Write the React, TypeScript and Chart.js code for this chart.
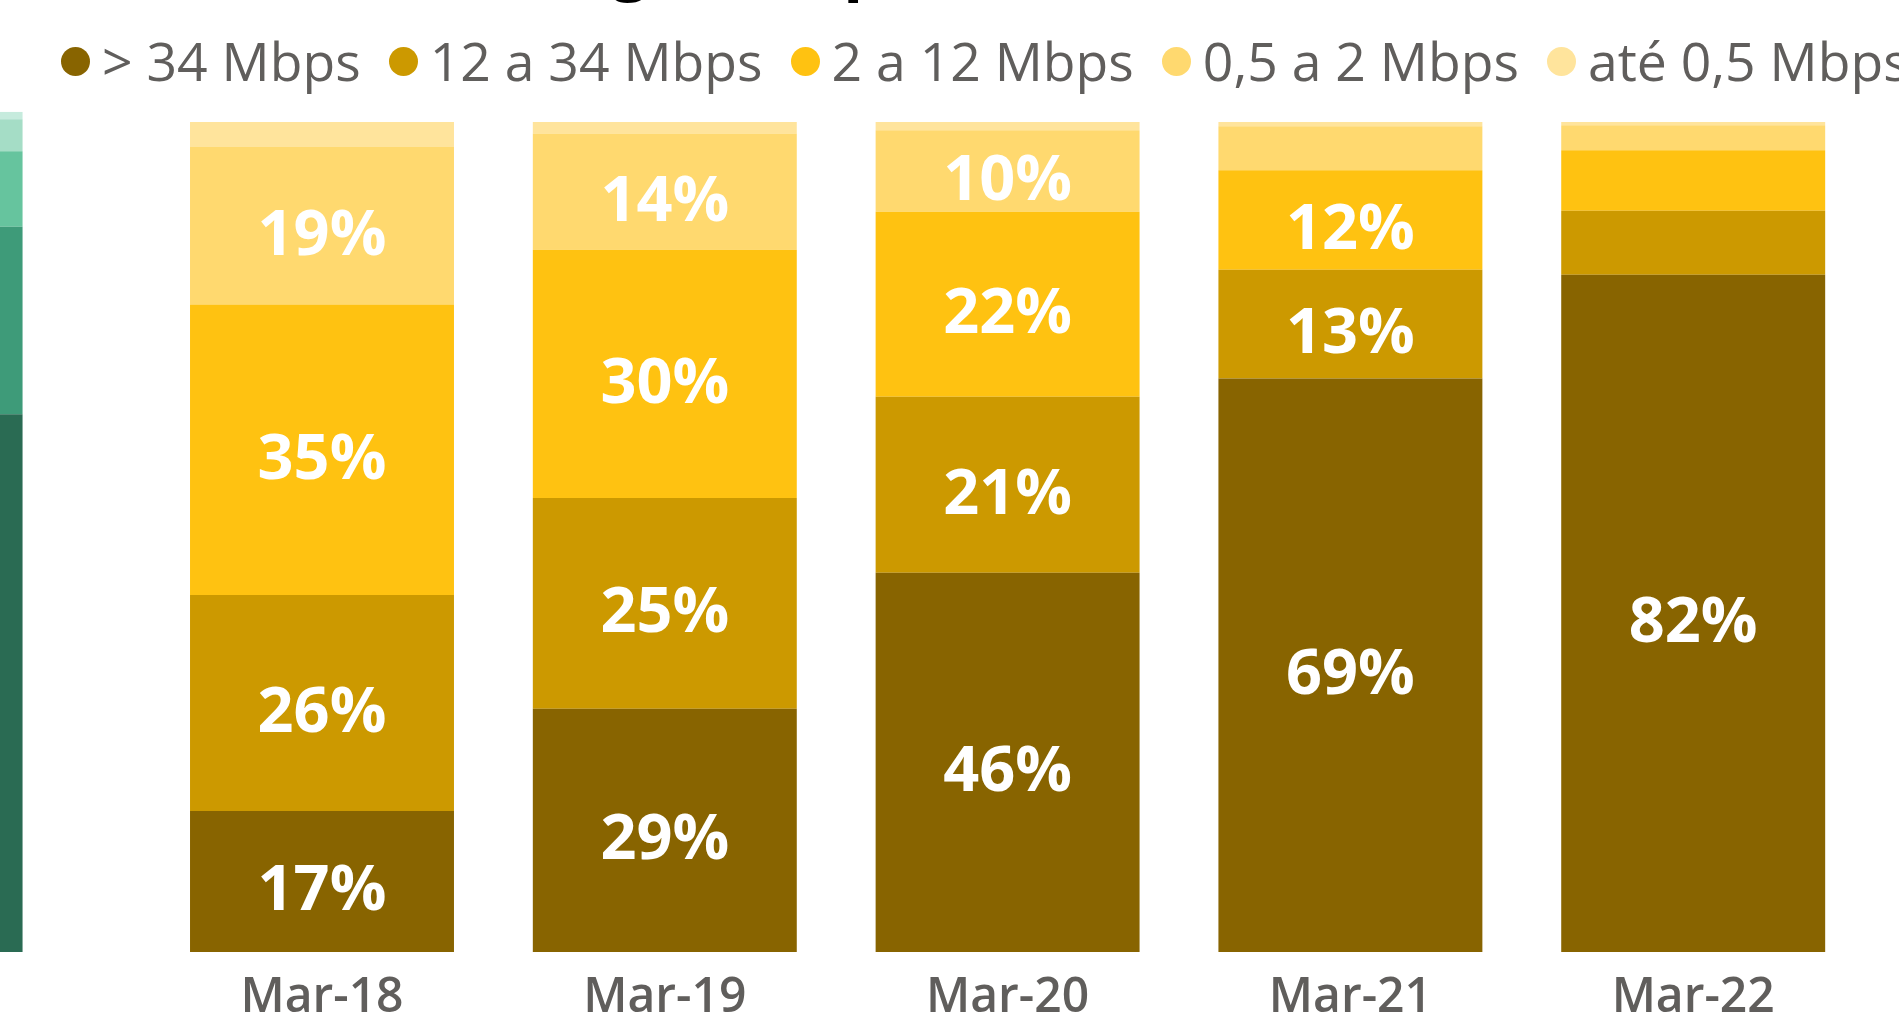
import React, { useEffect, useRef } from "react";
import { Chart, registerables } from "chart.js";

Chart.register(...registerables);

// ---- Data (right panel: speed classes, % of accesses) ----
const categories = ["Mar-18", "Mar-19", "Mar-20", "Mar-21", "Mar-22"];
const seriesNames = ["> 34 Mbps", "12 a 34 Mbps", "2 a 12 Mbps", "0,5 a 2 Mbps", "até 0,5 Mbps"];
const above34 = [17, 29.3, 45.7, 69.1, 81.6];
const from12to34 = [26, 25.4, 21.2, 13.1, 7.7];
const from2to12 = [35, 29.9, 22.3, 12.0, 7.3];
const from05to2 = [19, 14.0, 9.8, 5.3, 3.0];
const upTo05 = [3, 1.4, 1.0, 0.5, 0.4];
const seriesColors = ["#886400", "#CC9900", "#FFC211", "#FFD96F", "#FFE49C"];

// ---- Data (left panel, cropped: only its last bar is visible) ----
const greenCategories = ["Mar-22"];
const greenSeriesNames = ["Série 1", "Série 2", "Série 3", "Série 4", "Série 5"];
const green1 = [64.0];
const green2 = [22.3];
const green3 = [9.0];
const green4 = [3.8];
const green5 = [0.9];
const greenColors = ["#2A6B53", "#3E9B79", "#66C49E", "#A5DDC6", "#C6EBDD"];

const titleText = "Acessos de banda larga fixa por velocidade";

const GREY = "#605E5C";
const FONT = "'Open Sans', 'Noto Sans', sans-serif";
const CANVAS_H = 1047;

const segLabels = {
  id: "segLabels",
  afterDatasetsDraw(chart: any) {
    const ctx = chart.ctx;
    ctx.save();
    ctx.font = "bold 63px 'Open Sans'";
    ctx.fillStyle = "#ffffff";
    ctx.textAlign = "center";
    ctx.textBaseline = "middle";
    chart.data.datasets.forEach((ds: any, i: number) => {
      const meta = chart.getDatasetMeta(i);
      meta.data.forEach((el: any, j: number) => {
        const v = ds.data[j];
        if (v < 9) return;
        const p = el.getProps(["x", "y", "base"], true);
        ctx.fillText(Math.round(v) + "%", p.x, (p.y + p.base) / 2 + 11);
      });
    });
    ctx.restore();
  },
};

function makeConfig(labels: string[], names: string[], values: number[][], colors: string[], pad: any) {
  return {
    type: "bar" as const,
    data: {
      labels,
      datasets: values.map((d, i) => ({
        label: names[i],
        data: d,
        backgroundColor: colors[i],
        borderWidth: 0,
        barPercentage: 0.77,
        categoryPercentage: 1,
      })),
    },
    options: {
      animation: false as const,
      responsive: false,
      layout: { padding: pad },
      plugins: {
        legend: { display: false },
        tooltip: { enabled: false },
        title: { display: false },
      },
      scales: {
        x: {
          stacked: true,
          grid: { display: false, drawTicks: false },
          border: { display: false },
          ticks: {
            color: GREY,
            padding: 22,
            font: { family: "'Open Sans'", size: 48, weight: "600" as any, lineHeight: 1 },
          },
        },
        y: { stacked: true, min: 0, max: 100, display: false },
      },
    },
    plugins: [segLabels],
  };
}

export default function App() {
  const mainRef = useRef<HTMLCanvasElement>(null);
  const greenRef = useRef<HTMLCanvasElement>(null);

  useEffect(() => {
    const main = new Chart(
      mainRef.current!,
      makeConfig(
        categories,
        seriesNames,
        [above34, from12to34, from2to12, from05to2, upTo05],
        seriesColors,
        { left: 150.6, right: 34.4, top: 122, bottom: 3 }
      ) as any
    );
    const green = new Chart(
      greenRef.current!,
      makeConfig(
        greenCategories,
        greenSeriesNames,
        [green1, green2, green3, green4, green5],
        greenColors,
        { left: 0, right: 0, top: 111.7, bottom: 3 }
      ) as any
    );
    return () => {
      main.destroy();
      green.destroy();
    };
  }, []);

  return (
    <div
      style={{
        position: "fixed",
        left: 0,
        top: 0,
        width: 1899,
        height: 1015,
        overflow: "hidden",
        background: "#ffffff",
      }}
    >
      <canvas
        ref={greenRef}
        width={343}
        height={CANVAS_H}
        style={{ position: "absolute", left: -281.5, top: 0, width: 343, height: CANVAS_H }}
      />
      <canvas
        ref={mainRef}
        width={1899}
        height={CANVAS_H}
        style={{ position: "absolute", left: 0, top: 0, width: 1899, height: CANVAS_H }}
      />
      <div
        style={{
          position: "absolute",
          left: -64.5,
          top: -70,
          font: `700 65px ${FONT}`,
          lineHeight: "65px",
          whiteSpace: "nowrap",
          color: "#000000",
        }}
      >
        {titleText}
      </div>
      <div
        style={{
          position: "absolute",
          left: 61,
          top: 34,
          display: "flex",
          alignItems: "center",
          fontFamily: FONT,
          fontSize: 53.5,
          lineHeight: "54px",
          color: GREY,
          whiteSpace: "nowrap",
        }}
      >
        {seriesNames.map((n, i) => (
          <div key={n} style={{ display: "flex", alignItems: "center", marginRight: 28 }}>
            <span
              style={{
                display: "inline-block",
                width: 29,
                height: 29,
                borderRadius: "50%",
                background: seriesColors[i],
                marginRight: 12,
              }}
            />
            <span>{n}</span>
          </div>
        ))}
      </div>
    </div>
  );
}
